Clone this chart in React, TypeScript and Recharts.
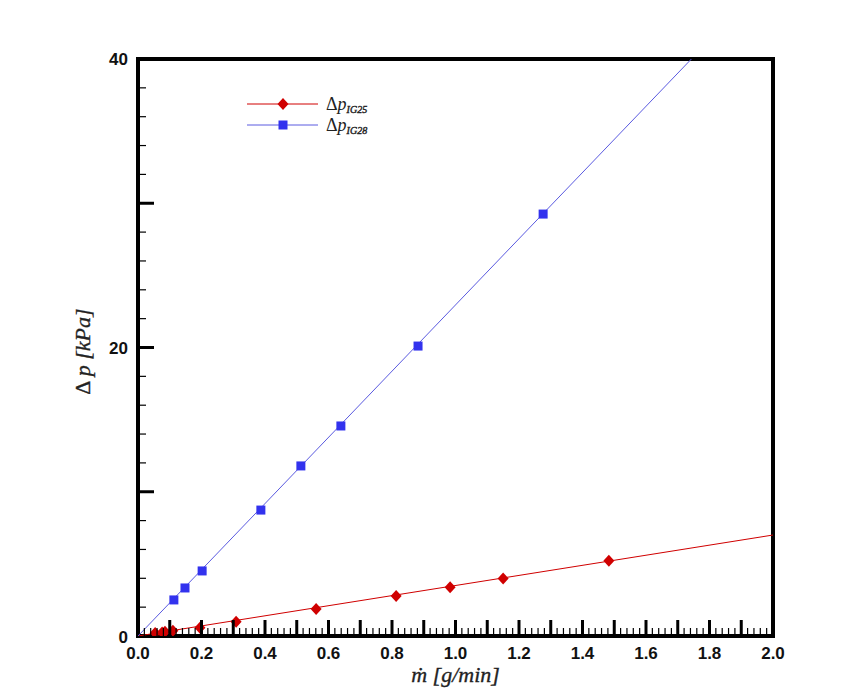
import React from 'react';
import {
  ComposedChart,
  Line,
  Scatter,
  XAxis,
  YAxis,
  ReferenceArea,
  Legend,
  Label
} from 'recharts';

// measured points, mass flow [g/min] vs pressure drop [kPa]
const ig25Flow = [0.054, 0.076, 0.085, 0.11, 0.195, 0.309, 0.561, 0.813, 0.983, 1.15, 1.483];
const ig25Dp = [0.21, 0.25, 0.3, 0.37, 0.58, 0.99, 1.87, 2.77, 3.38, 3.98, 5.21];
const ig28Flow = [0.113, 0.148, 0.202, 0.387, 0.513, 0.639, 0.882, 1.276];
const ig28Dp = [2.5, 3.33, 4.51, 8.73, 11.79, 14.56, 20.1, 29.25];

// fitted lines (end points)
const ig25FitFlow = [0, 2.0];
const ig25FitDp = [0, 7.0];
const ig28FitFlow = [0, 2.0];
const ig28FitDp = [0, 45.9];

const seriesNames = ['IG25', 'IG28'];
const xLabels = [0, 0.2, 0.4, 0.6, 0.8, 1.0, 1.2, 1.4, 1.6, 1.8, 2.0];
const yLabels = [0, 20, 40];

const xTicks = Array.from({ length: 101 }, (_, i) => Number((i * 0.02).toFixed(2)));
const yTicks = Array.from({ length: 21 }, (_, i) => i * 2);

const toPoints = (xs: number[], ys: number[]) => xs.map((x, i) => ({ x, y: ys[i] }));

const ig25Data = toPoints(ig25Flow, ig25Dp);
const ig28Data = toPoints(ig28Flow, ig28Dp);
const ig25Fit = toPoints(ig25FitFlow, ig25FitDp);
const ig28Fit = toPoints(ig28FitFlow, ig28FitDp);

const RED = '#d00000';
const BLUE = '#3232ee';
const BLUE_LINE = '#5a5ae0';
const SERIF = "'Liberation Serif', 'Times New Roman', serif";
const SANS = "'Liberation Sans', Arial, sans-serif";

const Diamond = ({ cx, cy, fill }: any) => (
  <polygon
    points={`${cx},${cy - 6} ${cx + 5.5},${cy} ${cx},${cy + 6} ${cx - 5.5},${cy}`}
    fill={fill}
  />
);

const Square = ({ cx, cy, fill }: any) => (
  <rect x={cx - 4.5} y={cy - 4.5} width={9} height={9} fill={fill} />
);

const XTick = ({ x, y, payload }: any) => {
  const v = payload.value;
  const k = Math.round(v * 50);
  const major = k % 5 === 0;
  const edge = k === 0 || k === 100;
  const label = xLabels.find((l) => Math.abs(l - v) < 1e-6);
  return (
    <g>
      {!edge && (
        <line
          x1={x}
          x2={x}
          y1={y}
          y2={y - (major ? 16 : 8)}
          stroke='#000'
          strokeWidth={major ? 3 : 1.2}
        />
      )}
      {label !== undefined && (
        <text
          x={x}
          y={y + 23}
          textAnchor='middle'
          style={{ fontFamily: SANS, fontWeight: 'bold', fontSize: 17 }}
          fill='#111'
        >
          {label.toFixed(1)}
        </text>
      )}
    </g>
  );
};

const YTick = ({ x, y, payload }: any) => {
  const v = payload.value;
  const major = v % 10 === 0;
  const edge = v === 0 || v === 40;
  const label = yLabels.find((l) => l === v);
  return (
    <g>
      {!edge && (
        <line
          x1={x}
          x2={x + (major ? 16 : 8)}
          y1={y}
          y2={y}
          stroke='#000'
          strokeWidth={major ? 3 : 1.2}
        />
      )}
      {label !== undefined && (
        <text
          x={x - 10}
          y={y}
          dy={v === 0 ? 7 : 6}
          textAnchor='end'
          style={{ fontFamily: SANS, fontWeight: 'bold', fontSize: 17 }}
          fill='#111'
        >
          {label}
        </text>
      )}
    </g>
  );
};

// serif bold-italic is faked with a thin stroke so the serif face is kept
const titleStyle = {
  fontFamily: SERIF,
  fontSize: 22,
  fontWeight: 'normal' as const,
  fill: '#222',
  stroke: '#222',
  strokeWidth: 0.35
};

const XTitle = ({ viewBox }: any) => {
  const { x, y, width } = viewBox;
  return (
    <text
      x={x + width / 2}
      y={y + 46}
      textAnchor='middle'
      style={{ ...titleStyle, fontStyle: 'italic' }}
    >
      ṁ [g/min]
    </text>
  );
};

const YTitle = ({ viewBox }: any) => {
  const { x, y, height } = viewBox;
  const cx = x + 12;
  const cy = y + height / 2 + 4;
  return (
    <text
      x={cx}
      y={cy}
      transform={`rotate(-90, ${cx}, ${cy})`}
      textAnchor='middle'
      style={titleStyle}
    >
      <tspan>Δ </tspan>
      <tspan style={{ fontStyle: 'italic' }}>p [kPa]</tspan>
    </text>
  );
};

const LegendContent = () => (
  <svg width={200} height={46}>
    {seriesNames.map((name, i) => {
      const cy = 12 + i * 21;
      const color = i === 0 ? RED : BLUE;
      return (
        <g key={name}>
          <line x1={7} x2={78} y1={cy} y2={cy} stroke={i === 0 ? RED : BLUE_LINE} strokeWidth={1} />
          {i === 0 ? <Diamond cx={43} cy={cy} fill={color} /> : <Square cx={43} cy={cy} fill={color} />}
          <text x={86} y={cy + 6} style={{ fontFamily: SERIF, fontSize: 18 }} fill='#222'>
            Δ<tspan style={{ fontStyle: 'italic' }}>p</tspan>
            <tspan
              style={{ fontStyle: 'italic', fontSize: 10 }}
              dy={3}
              stroke='#222'
              strokeWidth={0.4}
            >
              {name}
            </tspan>
          </text>
        </g>
      );
    })}
  </svg>
);

export default function App() {
  return (
    <div style={{ position: 'absolute', left: 0, top: 0 }}>
      <ComposedChart
        width={842}
        height={697}
        margin={{ top: 59, right: 69, left: 78, bottom: 31 }}
      >
        <XAxis
          type='number'
          dataKey='x'
          domain={[0, 2]}
          ticks={xTicks}
          interval={0}
          tick={<XTick />}
          tickLine={false}
          tickSize={0}
          tickMargin={0}
          axisLine={false}
          height={30}
          allowDataOverflow
        >
          <Label content={<XTitle />} />
        </XAxis>
        <YAxis
          type='number'
          dataKey='y'
          domain={[0, 40]}
          ticks={yTicks}
          interval={0}
          tick={<YTick />}
          tickLine={false}
          tickSize={0}
          tickMargin={0}
          axisLine={false}
          width={60}
          allowDataOverflow
        >
          <Label content={<YTitle />} />
        </YAxis>
        <ReferenceArea
          x1={0}
          x2={2}
          y1={0}
          y2={40}
          fill='none'
          fillOpacity={0}
          stroke='#000'
          strokeWidth={4}
          ifOverflow='visible'
        />
        <Line
          data={ig25Fit}
          dataKey='y'
          type='linear'
          stroke={RED}
          strokeWidth={1}
          dot={false}
          legendType='none'
          isAnimationActive={false}
        />
        <Line
          data={ig28Fit}
          dataKey='y'
          type='linear'
          stroke={BLUE_LINE}
          strokeWidth={1}
          dot={false}
          legendType='none'
          isAnimationActive={false}
        />
        <Scatter
          name='IG25'
          data={ig25Data}
          fill={RED}
          shape={<Diamond />}
          isAnimationActive={false}
        />
        <Scatter
          name='IG28'
          data={ig28Data}
          fill={BLUE}
          shape={<Square />}
          isAnimationActive={false}
        />
        <Legend
          layout='vertical'
          align='center'
          verticalAlign='middle'
          content={<LegendContent />}
          wrapperStyle={{ left: 240, top: 92, width: 200 }}
        />
      </ComposedChart>
    </div>
  );
}
